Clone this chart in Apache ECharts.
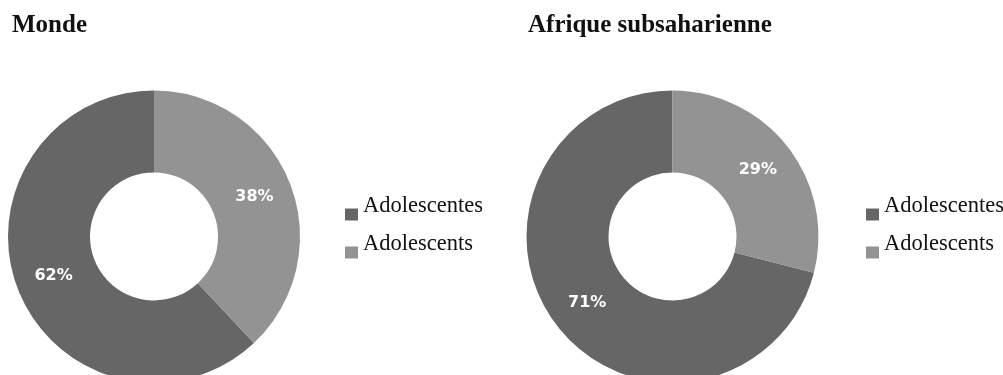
<!DOCTYPE html>
<html>
<head>
<meta charset="utf-8">
<script src="https://cdn.jsdelivr.net/npm/echarts@6/dist/echarts.min.js"></script>
<style>
  html, body { margin: 0; padding: 0; background: #fff; }
  #chart { width: 1003px; height: 375px; }
</style>
</head>
<body>
<div id="chart"></div>
<script>
// données
var categories = ['Adolescentes', 'Adolescents'];
var regions = ['Monde', 'Afrique subsaharienne'];
var monde = [62, 38];
var afrique = [71, 29];
var colors = ['#666666', '#939393'];

var dom = document.getElementById('chart');
var myChart = echarts.init(dom, null, { renderer: 'canvas' });

function slices(values) {
    return values.map(function (v, i) {
        return { name: categories[i], value: v };
    });
}

function donut(cx, values) {
    return {
        type: 'pie',
        center: [cx, 236.5],
        radius: [64, 146],
        startAngle: 90,
        clockwise: false,
        silent: true,
        emphasis: { disabled: true },
        itemStyle: { borderWidth: 0 },
        label: {
            show: true,
            position: 'inside',
            formatter: '{c}%',
            color: '#ffffff',
            fontFamily: 'DejaVu Sans',
            fontWeight: 'bold',
            fontSize: 16
        },
        labelLine: { show: false },
        data: slices(values)
    };
}

function legende(x) {
    return {
        orient: 'vertical',
        left: x,
        top: 195,
        padding: 0,
        data: categories,
        icon: 'rect',
        itemWidth: 13,
        itemHeight: 12,
        itemGap: -1,
        selectedMode: false,
        formatter: '{t|{name}}',
        textStyle: {
            rich: {
                t: {
                    fontFamily: 'Liberation Serif',
                    fontSize: 22.5,
                    color: '#111111',
                    lineHeight: 22,
                    padding: [0, 0, 16, 0]
                }
            }
        }
    };
}

var titleStyle = {
    fontFamily: 'Liberation Serif',
    fontWeight: 'bold',
    fontSize: 25,
    color: '#111111',
    letterSpacing: 0.25
};

var option = {
    backgroundColor: '#ffffff',
    animation: false,
    color: colors,
    title: [
        { text: regions[0], left: 12, top: 13, padding: 0, textStyle: titleStyle },
        { text: regions[1], left: 528, top: 13, padding: 0, textStyle: titleStyle }
    ],
    legend: [legende(345), legende(866)],
    series: [donut(154, monde), donut(672.5, afrique)]
};

myChart.setOption(option);
</script>
</body>
</html>
